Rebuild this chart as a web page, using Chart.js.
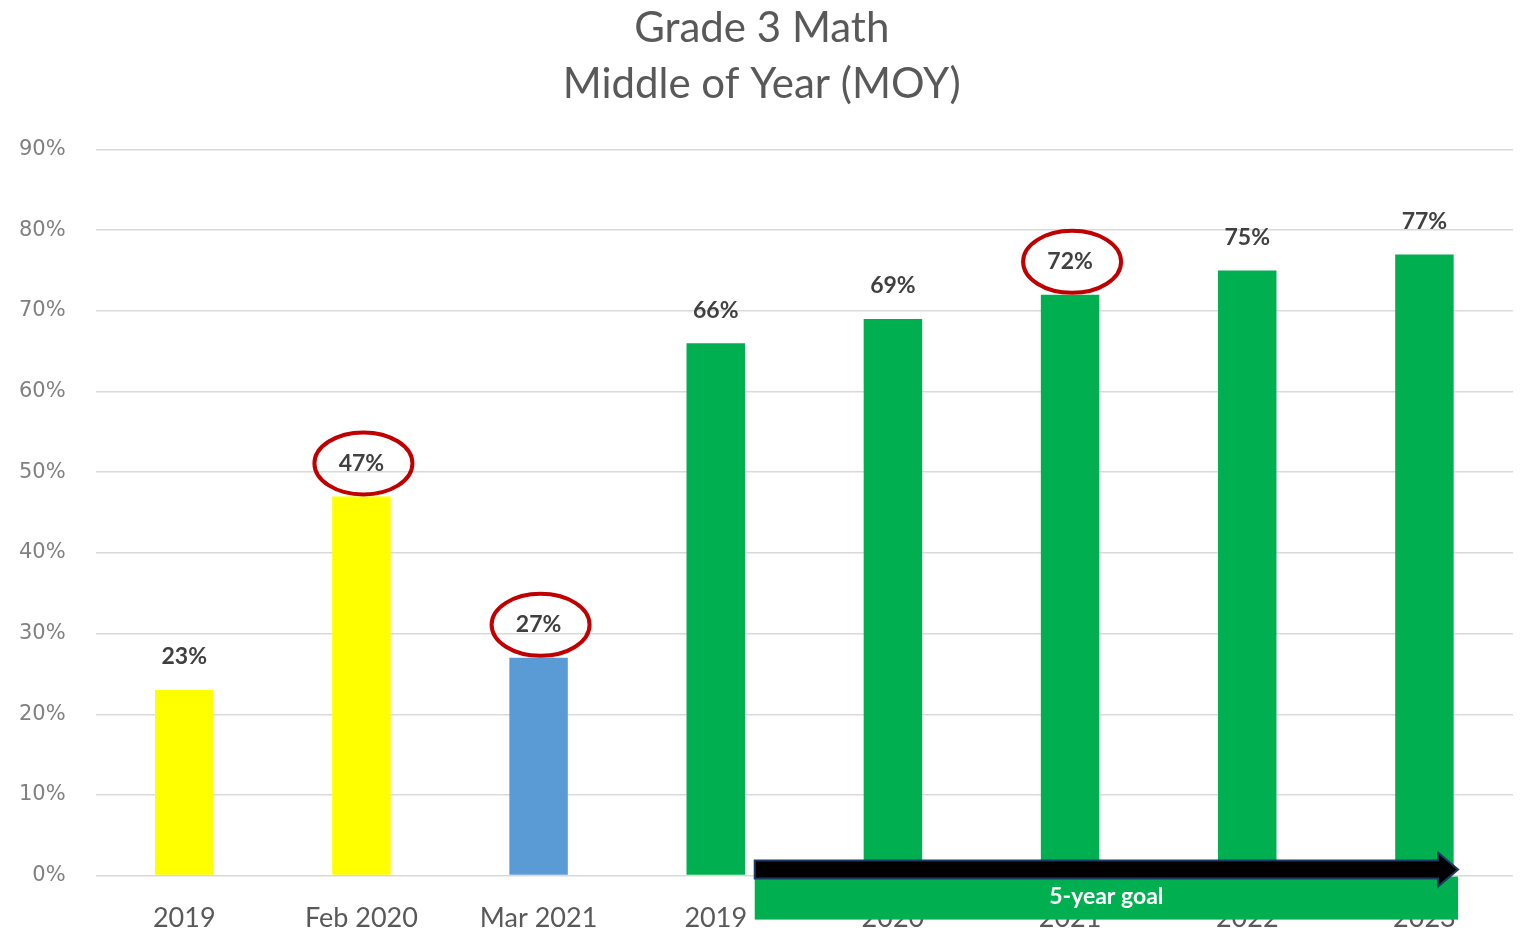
<!DOCTYPE html>
<html>
<head>
<meta charset="utf-8">
<script src="https://cdn.jsdelivr.net/npm/chart.js@4.4.0/dist/chart.umd.min.js"></script>
<style>
  html, body { margin: 0; padding: 0; background: #fff; }
  #wrap { width: 1522px; height: 932px; }
</style>
</head>
<body>
<div id="wrap"><canvas id="mathChart"></canvas></div>
<script>
const categories = ['2019', 'Feb 2020', 'Mar 2021', '2019', '2020', '2021', '2022', '2023'];
const values = [23, 47, 27, 66, 69, 72, 75, 77];
const barColors = ['#ffff00', '#ffff00', '#5b9bd5', '#00b050', '#00b050', '#00b050', '#00b050', '#00b050'];
const circled = [1, 2, 5];
const goalStart = 3;
const goalEnd = 7;
const goalText = '5-year goal';

// value labels above bars + red circles
const barLabels = {
    id: 'barLabels',
    afterDatasetsDraw(chart) {
        const ctx = chart.ctx;
        const meta = chart.getDatasetMeta(0);
        ctx.save();
        ctx.font = 'bold 23px Lato, "Noto Sans", sans-serif';
        ctx.fillStyle = '#404040';
        ctx.textAlign = 'center';
        ctx.textBaseline = 'middle';
        meta.data.forEach(function(bar, i) {
            const ly = bar.y - 33;
            ctx.fillText(values[i] + '%', bar.x, ly);
            if (circled.includes(i)) {
                ctx.beginPath();
                ctx.strokeStyle = '#c00000';
                ctx.lineWidth = 4;
                ctx.ellipse(bar.x + 2, ly, 49, 31, 0, 0, Math.PI * 2);
                ctx.stroke();
            }
        });
        ctx.restore();
    }
};

// green "5-year goal" box with arrow, drawn over the axis labels
const goalBox = {
    id: 'goalBox',
    afterDraw(chart) {
        const ctx = chart.ctx;
        const x = chart.scales.x;
        const y = chart.scales.y;
        const step = x.getPixelForValue(1) - x.getPixelForValue(0);
        const left = x.getPixelForValue(goalStart) + step * 0.22;
        const right = x.getPixelForValue(goalEnd) + step * 0.19;
        const base = y.getPixelForValue(0);
        ctx.save();
        ctx.fillStyle = '#00b050';
        ctx.fillRect(left, base + 1, right - left, 43);

        // arrow
        const midY = base - 6;
        const headLen = 20;
        ctx.beginPath();
        ctx.moveTo(left, midY - 9);
        ctx.lineTo(right - headLen, midY - 9);
        ctx.lineTo(right - headLen, midY - 17);
        ctx.lineTo(right, midY);
        ctx.lineTo(right - headLen, midY + 17);
        ctx.lineTo(right - headLen, midY + 9);
        ctx.lineTo(left, midY + 9);
        ctx.closePath();
        ctx.fillStyle = '#000000';
        ctx.fill();
        ctx.strokeStyle = '#1f3864';
        ctx.lineWidth = 2;
        ctx.stroke();

        ctx.fillStyle = '#ffffff';
        ctx.font = 'bold 23px Lato, "Noto Sans", sans-serif';
        ctx.textAlign = 'center';
        ctx.textBaseline = 'middle';
        ctx.fillText(goalText, (left + right) / 2, base + 21);
        ctx.restore();
    }
};

document.addEventListener("DOMContentLoaded", function() {
    const ctx = document.getElementById('mathChart').getContext('2d');
    new Chart(ctx, {
        type: 'bar',
        data: {
            labels: categories,
            datasets: [{
                data: values,
                backgroundColor: barColors,
                barPercentage: 0.33,
                categoryPercentage: 1.0
            }]
        },
        options: {
            responsive: true,
            maintainAspectRatio: false,
            animation: false,
            layout: { padding: { left: -11, right: 9, top: 0, bottom: -28 } },
            plugins: {
                legend: { display: false },
                tooltip: { enabled: false },
                title: {
                    display: true,
                    text: ['  Grade 3 Math', '  Middle of Year (MOY)'],
                    color: '#595959',
                    font: { family: 'Lato, "Noto Sans", sans-serif', size: 42, weight: 'normal', lineHeight: 1.34 },
                    padding: { top: 0, bottom: 37 }
                }
            },
            scales: {
                x: {
                    grid: { display: false, drawTicks: false },
                    border: { display: false },
                    ticks: {
                        color: '#595959',
                        padding: 26,
                        font: { family: 'Lato, "Noto Sans", sans-serif', size: 27 }
                    }
                },
                y: {
                    min: 0,
                    max: 90,
                    grid: { color: '#d9d9d9', lineWidth: 1.5, drawTicks: false },
                    border: { display: false },
                    ticks: {
                        stepSize: 10,
                        color: '#808080',
                        padding: 30,
                        font: { family: '"DejaVu Sans", sans-serif', size: 21 },
                        callback: function(v) { return v + '%'; }
                    }
                }
            }
        },
        plugins: [barLabels, goalBox]
    });
});
</script>
</body>
</html>
